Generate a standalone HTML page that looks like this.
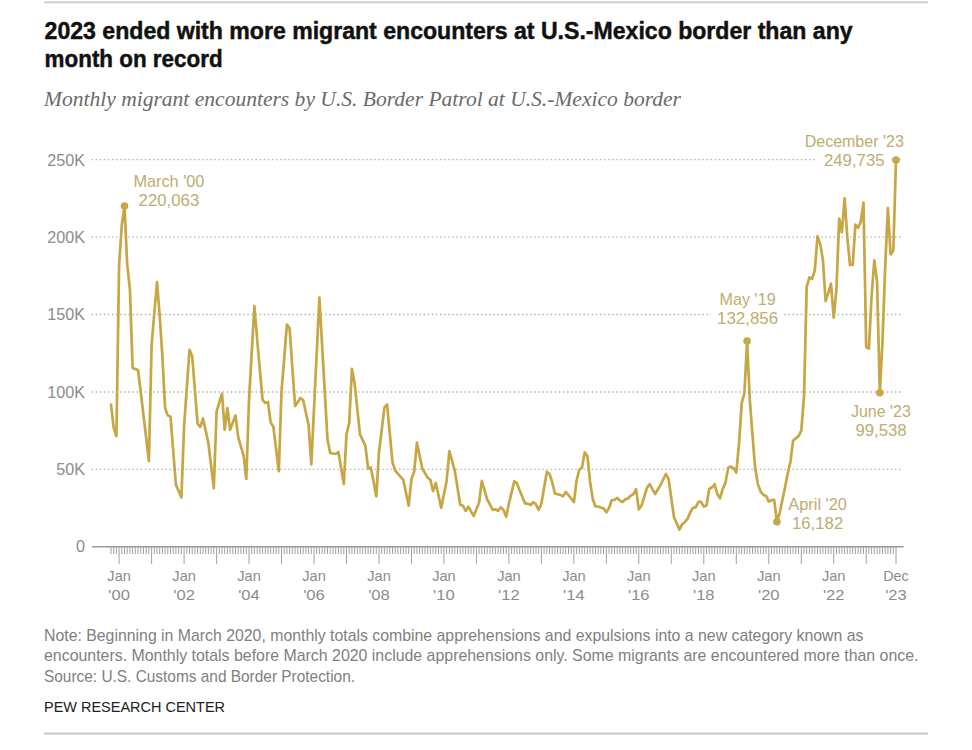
<!DOCTYPE html>
<html><head><meta charset="utf-8"><style>
html,body{margin:0;padding:0;background:#fff;}
body{width:972px;height:750px;overflow:hidden;position:relative;font-family:"Liberation Sans",sans-serif;}
svg{position:absolute;left:0;top:0;}
</style></head><body>
<svg width="972" height="750" viewBox="0 0 972 750">
<rect x="44" y="1.3" width="884" height="2" fill="#cfcfcf"/>
<rect x="44" y="732.6" width="884" height="2" fill="#c8c8c8"/>
<text x="44.6" y="39.1" font-family="Liberation Sans" font-weight="bold" font-size="23" fill="#111" stroke="#111" stroke-width="0.45" textLength="808" lengthAdjust="spacingAndGlyphs">2023 ended with more migrant encounters at U.S.-Mexico border than any</text>
<text x="44.6" y="66.9" font-family="Liberation Sans" font-weight="bold" font-size="23" fill="#111" stroke="#111" stroke-width="0.45" textLength="178" lengthAdjust="spacingAndGlyphs">month on record</text>
<text x="44" y="105.5" font-family="Liberation Serif" font-style="italic" font-size="21.5" fill="#6a6a6a" textLength="637" lengthAdjust="spacingAndGlyphs">Monthly migrant encounters by U.S. Border Patrol at U.S.-Mexico border</text>
<line x1="91.5" y1="469.4" x2="902.5" y2="469.4" stroke="#b0b0b0" stroke-width="1.3" stroke-dasharray="1.4 2.7"/>
<text x="85" y="475.2" text-anchor="end" font-family="Liberation Sans" font-size="16.2" fill="#8c8c8c">50K</text>
<line x1="91.5" y1="392.0" x2="902.5" y2="392.0" stroke="#b0b0b0" stroke-width="1.3" stroke-dasharray="1.4 2.7"/>
<text x="85" y="397.8" text-anchor="end" font-family="Liberation Sans" font-size="16.2" fill="#8c8c8c">100K</text>
<line x1="91.5" y1="314.5" x2="902.5" y2="314.5" stroke="#b0b0b0" stroke-width="1.3" stroke-dasharray="1.4 2.7"/>
<text x="85" y="320.3" text-anchor="end" font-family="Liberation Sans" font-size="16.2" fill="#8c8c8c">150K</text>
<line x1="91.5" y1="237.1" x2="902.5" y2="237.1" stroke="#b0b0b0" stroke-width="1.3" stroke-dasharray="1.4 2.7"/>
<text x="85" y="242.9" text-anchor="end" font-family="Liberation Sans" font-size="16.2" fill="#8c8c8c">200K</text>
<line x1="91.5" y1="159.7" x2="902.5" y2="159.7" stroke="#b0b0b0" stroke-width="1.3" stroke-dasharray="1.4 2.7"/>
<text x="85" y="165.5" text-anchor="end" font-family="Liberation Sans" font-size="16.2" fill="#8c8c8c">250K</text>
<text x="85" y="552.3" text-anchor="end" font-family="Liberation Sans" font-size="16.2" fill="#8c8c8c">0</text>
<line x1="92" y1="546.8" x2="903.5" y2="546.8" stroke="#9a9a9a" stroke-width="1.6"/>
<path d="M111.0 547V554 M113.7 547V554 M116.4 547V554 M119.1 547V564 M121.8 547V554 M124.5 547V554 M127.2 547V554 M129.9 547V554 M132.6 547V554 M135.3 547V554 M138.0 547V554 M140.8 547V554 M143.5 547V554 M146.2 547V554 M148.9 547V554 M151.6 547V564 M154.3 547V554 M157.0 547V554 M159.7 547V554 M162.4 547V554 M165.1 547V554 M167.8 547V554 M170.5 547V554 M173.2 547V554 M175.9 547V554 M178.7 547V554 M181.4 547V554 M184.1 547V564 M186.8 547V554 M189.5 547V554 M192.2 547V554 M194.9 547V554 M197.6 547V554 M200.3 547V554 M203.0 547V554 M205.7 547V554 M208.4 547V554 M211.1 547V554 M213.8 547V554 M216.6 547V564 M219.3 547V554 M222.0 547V554 M224.7 547V554 M227.4 547V554 M230.1 547V554 M232.8 547V554 M235.5 547V554 M238.2 547V554 M240.9 547V554 M243.6 547V554 M246.3 547V554 M249.0 547V564 M251.7 547V554 M254.4 547V554 M257.2 547V554 M259.9 547V554 M262.6 547V554 M265.3 547V554 M268.0 547V554 M270.7 547V554 M273.4 547V554 M276.1 547V554 M278.8 547V554 M281.5 547V564 M284.2 547V554 M286.9 547V554 M289.6 547V554 M292.3 547V554 M295.1 547V554 M297.8 547V554 M300.5 547V554 M303.2 547V554 M305.9 547V554 M308.6 547V554 M311.3 547V554 M314.0 547V564 M316.7 547V554 M319.4 547V554 M322.1 547V554 M324.8 547V554 M327.5 547V554 M330.2 547V554 M333.0 547V554 M335.7 547V554 M338.4 547V554 M341.1 547V554 M343.8 547V554 M346.5 547V564 M349.2 547V554 M351.9 547V554 M354.6 547V554 M357.3 547V554 M360.0 547V554 M362.7 547V554 M365.4 547V554 M368.1 547V554 M370.8 547V554 M373.6 547V554 M376.3 547V554 M379.0 547V564 M381.7 547V554 M384.4 547V554 M387.1 547V554 M389.8 547V554 M392.5 547V554 M395.2 547V554 M397.9 547V554 M400.6 547V554 M403.3 547V554 M406.0 547V554 M408.7 547V554 M411.5 547V564 M414.2 547V554 M416.9 547V554 M419.6 547V554 M422.3 547V554 M425.0 547V554 M427.7 547V554 M430.4 547V554 M433.1 547V554 M435.8 547V554 M438.5 547V554 M441.2 547V554 M443.9 547V564 M446.6 547V554 M449.4 547V554 M452.1 547V554 M454.8 547V554 M457.5 547V554 M460.2 547V554 M462.9 547V554 M465.6 547V554 M468.3 547V554 M471.0 547V554 M473.7 547V554 M476.4 547V564 M479.1 547V554 M481.8 547V554 M484.5 547V554 M487.2 547V554 M490.0 547V554 M492.7 547V554 M495.4 547V554 M498.1 547V554 M500.8 547V554 M503.5 547V554 M506.2 547V554 M508.9 547V564 M511.6 547V554 M514.3 547V554 M517.0 547V554 M519.7 547V554 M522.4 547V554 M525.1 547V554 M527.9 547V554 M530.6 547V554 M533.3 547V554 M536.0 547V554 M538.7 547V554 M541.4 547V564 M544.1 547V554 M546.8 547V554 M549.5 547V554 M552.2 547V554 M554.9 547V554 M557.6 547V554 M560.3 547V554 M563.0 547V554 M565.7 547V554 M568.5 547V554 M571.2 547V554 M573.9 547V564 M576.6 547V554 M579.3 547V554 M582.0 547V554 M584.7 547V554 M587.4 547V554 M590.1 547V554 M592.8 547V554 M595.5 547V554 M598.2 547V554 M600.9 547V554 M603.6 547V554 M606.4 547V564 M609.1 547V554 M611.8 547V554 M614.5 547V554 M617.2 547V554 M619.9 547V554 M622.6 547V554 M625.3 547V554 M628.0 547V554 M630.7 547V554 M633.4 547V554 M636.1 547V554 M638.8 547V564 M641.5 547V554 M644.3 547V554 M647.0 547V554 M649.7 547V554 M652.4 547V554 M655.1 547V554 M657.8 547V554 M660.5 547V554 M663.2 547V554 M665.9 547V554 M668.6 547V554 M671.3 547V564 M674.0 547V554 M676.7 547V554 M679.4 547V554 M682.1 547V554 M684.9 547V554 M687.6 547V554 M690.3 547V554 M693.0 547V554 M695.7 547V554 M698.4 547V554 M701.1 547V554 M703.8 547V564 M706.5 547V554 M709.2 547V554 M711.9 547V554 M714.6 547V554 M717.3 547V554 M720.0 547V554 M722.8 547V554 M725.5 547V554 M728.2 547V554 M730.9 547V554 M733.6 547V554 M736.3 547V564 M739.0 547V554 M741.7 547V554 M744.4 547V554 M747.1 547V554 M749.8 547V554 M752.5 547V554 M755.2 547V554 M757.9 547V554 M760.7 547V554 M763.4 547V554 M766.1 547V554 M768.8 547V564 M771.5 547V554 M774.2 547V554 M776.9 547V554 M779.6 547V554 M782.3 547V554 M785.0 547V554 M787.7 547V554 M790.4 547V554 M793.1 547V554 M795.8 547V554 M798.5 547V554 M801.3 547V564 M804.0 547V554 M806.7 547V554 M809.4 547V554 M812.1 547V554 M814.8 547V554 M817.5 547V554 M820.2 547V554 M822.9 547V554 M825.6 547V554 M828.3 547V554 M831.0 547V554 M833.7 547V564 M836.4 547V554 M839.2 547V554 M841.9 547V554 M844.6 547V554 M847.3 547V554 M850.0 547V554 M852.7 547V554 M855.4 547V554 M858.1 547V554 M860.8 547V554 M863.5 547V554 M866.2 547V564 M868.9 547V554 M871.6 547V554 M874.3 547V554 M877.1 547V554 M879.8 547V554 M882.5 547V554 M885.2 547V554 M887.9 547V554 M890.6 547V554 M893.3 547V554 M896.0 547V564" stroke="#a0a0a0" stroke-width="1" fill="none"/>
<text x="119.1" y="581" text-anchor="middle" font-family="Liberation Sans" font-size="15" fill="#8c8c8c" textLength="23.5" lengthAdjust="spacingAndGlyphs">Jan</text>
<text x="119.1" y="600.1" text-anchor="middle" font-family="Liberation Sans" font-size="15" fill="#8c8c8c" textLength="21.6" lengthAdjust="spacingAndGlyphs">'00</text>
<text x="184.1" y="581" text-anchor="middle" font-family="Liberation Sans" font-size="15" fill="#8c8c8c" textLength="23.5" lengthAdjust="spacingAndGlyphs">Jan</text>
<text x="184.1" y="600.1" text-anchor="middle" font-family="Liberation Sans" font-size="15" fill="#8c8c8c" textLength="21.6" lengthAdjust="spacingAndGlyphs">'02</text>
<text x="249.0" y="581" text-anchor="middle" font-family="Liberation Sans" font-size="15" fill="#8c8c8c" textLength="23.5" lengthAdjust="spacingAndGlyphs">Jan</text>
<text x="249.0" y="600.1" text-anchor="middle" font-family="Liberation Sans" font-size="15" fill="#8c8c8c" textLength="21.6" lengthAdjust="spacingAndGlyphs">'04</text>
<text x="314.0" y="581" text-anchor="middle" font-family="Liberation Sans" font-size="15" fill="#8c8c8c" textLength="23.5" lengthAdjust="spacingAndGlyphs">Jan</text>
<text x="314.0" y="600.1" text-anchor="middle" font-family="Liberation Sans" font-size="15" fill="#8c8c8c" textLength="21.6" lengthAdjust="spacingAndGlyphs">'06</text>
<text x="379.0" y="581" text-anchor="middle" font-family="Liberation Sans" font-size="15" fill="#8c8c8c" textLength="23.5" lengthAdjust="spacingAndGlyphs">Jan</text>
<text x="379.0" y="600.1" text-anchor="middle" font-family="Liberation Sans" font-size="15" fill="#8c8c8c" textLength="21.6" lengthAdjust="spacingAndGlyphs">'08</text>
<text x="443.9" y="581" text-anchor="middle" font-family="Liberation Sans" font-size="15" fill="#8c8c8c" textLength="23.5" lengthAdjust="spacingAndGlyphs">Jan</text>
<text x="443.9" y="600.1" text-anchor="middle" font-family="Liberation Sans" font-size="15" fill="#8c8c8c" textLength="21.6" lengthAdjust="spacingAndGlyphs">'10</text>
<text x="508.9" y="581" text-anchor="middle" font-family="Liberation Sans" font-size="15" fill="#8c8c8c" textLength="23.5" lengthAdjust="spacingAndGlyphs">Jan</text>
<text x="508.9" y="600.1" text-anchor="middle" font-family="Liberation Sans" font-size="15" fill="#8c8c8c" textLength="21.6" lengthAdjust="spacingAndGlyphs">'12</text>
<text x="573.9" y="581" text-anchor="middle" font-family="Liberation Sans" font-size="15" fill="#8c8c8c" textLength="23.5" lengthAdjust="spacingAndGlyphs">Jan</text>
<text x="573.9" y="600.1" text-anchor="middle" font-family="Liberation Sans" font-size="15" fill="#8c8c8c" textLength="21.6" lengthAdjust="spacingAndGlyphs">'14</text>
<text x="638.8" y="581" text-anchor="middle" font-family="Liberation Sans" font-size="15" fill="#8c8c8c" textLength="23.5" lengthAdjust="spacingAndGlyphs">Jan</text>
<text x="638.8" y="600.1" text-anchor="middle" font-family="Liberation Sans" font-size="15" fill="#8c8c8c" textLength="21.6" lengthAdjust="spacingAndGlyphs">'16</text>
<text x="703.8" y="581" text-anchor="middle" font-family="Liberation Sans" font-size="15" fill="#8c8c8c" textLength="23.5" lengthAdjust="spacingAndGlyphs">Jan</text>
<text x="703.8" y="600.1" text-anchor="middle" font-family="Liberation Sans" font-size="15" fill="#8c8c8c" textLength="21.6" lengthAdjust="spacingAndGlyphs">'18</text>
<text x="768.8" y="581" text-anchor="middle" font-family="Liberation Sans" font-size="15" fill="#8c8c8c" textLength="23.5" lengthAdjust="spacingAndGlyphs">Jan</text>
<text x="768.8" y="600.1" text-anchor="middle" font-family="Liberation Sans" font-size="15" fill="#8c8c8c" textLength="21.6" lengthAdjust="spacingAndGlyphs">'20</text>
<text x="833.7" y="581" text-anchor="middle" font-family="Liberation Sans" font-size="15" fill="#8c8c8c" textLength="23.5" lengthAdjust="spacingAndGlyphs">Jan</text>
<text x="833.7" y="600.1" text-anchor="middle" font-family="Liberation Sans" font-size="15" fill="#8c8c8c" textLength="21.6" lengthAdjust="spacingAndGlyphs">'22</text>
<text x="896.0" y="581" text-anchor="middle" font-family="Liberation Sans" font-size="15" fill="#8c8c8c" textLength="25.4" lengthAdjust="spacingAndGlyphs">Dec</text>
<text x="896.0" y="600.1" text-anchor="middle" font-family="Liberation Sans" font-size="15" fill="#8c8c8c" textLength="21.6" lengthAdjust="spacingAndGlyphs">'23</text>
<rect x="815.5" y="150" width="76" height="20" fill="#fff"/>
<rect x="711" y="305" width="73" height="20" fill="#fff"/>
<polyline points="111.0,404.5 113.7,427.8 116.4,436.0 119.1,265.0 121.8,225.0 124.5,206.1 127.2,264.4 129.9,289.0 132.6,367.9 135.3,369.0 138.0,370.0 140.8,392.7 143.5,415.4 146.2,438.2 148.9,460.9 151.6,345.0 154.3,313.0 157.0,282.0 159.7,316.0 162.4,356.5 165.1,408.2 167.8,415.4 170.5,416.4 173.2,450.5 175.9,484.6 178.7,491.0 181.4,497.4 184.1,426.0 186.8,387.9 189.5,349.8 192.2,356.3 194.9,390.0 197.6,423.7 200.3,426.8 203.0,418.5 205.7,430.9 208.4,443.3 211.1,465.7 213.8,488.1 216.6,411.3 219.3,402.5 222.0,393.7 224.7,429.9 227.4,408.2 230.1,429.9 232.8,422.6 235.5,415.4 238.2,437.1 240.9,446.4 243.6,455.7 246.3,478.9 249.0,399.9 251.7,352.9 254.4,306.0 257.2,340.0 259.9,369.9 262.6,399.9 265.3,403.0 268.0,402.0 270.7,422.6 273.4,426.8 276.1,449.0 278.8,471.2 281.5,391.6 284.2,358.1 286.9,324.6 289.6,328.2 292.3,367.1 295.1,406.0 297.8,401.9 300.5,397.9 303.2,400.3 305.9,412.7 308.6,425.1 311.3,464.4 314.0,408.8 316.7,353.2 319.4,297.6 322.1,344.9 324.8,392.3 327.5,439.6 330.2,453.0 333.0,453.5 335.7,454.0 338.4,452.0 341.1,468.0 343.8,484.0 346.5,434.4 349.2,423.0 351.9,368.8 354.6,383.3 357.3,408.9 360.0,434.4 362.7,440.1 365.4,445.8 368.1,468.5 370.8,467.5 373.6,481.9 376.3,496.4 379.0,452.0 381.7,429.8 384.4,407.6 387.1,404.5 389.8,433.4 392.5,462.3 395.2,470.6 397.9,473.7 400.6,476.8 403.3,479.9 406.0,492.8 408.7,505.7 411.5,478.8 414.2,471.6 416.9,442.7 419.6,455.6 422.3,468.5 425.0,473.1 427.7,477.8 430.4,479.9 433.1,491.2 435.8,483.0 438.5,495.4 441.2,507.8 443.9,494.4 446.6,480.9 449.4,451.0 452.1,460.8 454.8,470.6 457.5,487.6 460.2,504.7 462.9,505.7 465.6,510.9 468.3,506.7 471.0,511.4 473.7,516.0 476.4,509.3 479.1,502.6 481.8,480.9 484.5,490.2 487.2,499.5 490.0,504.6 492.7,509.8 495.4,509.3 498.1,510.8 500.8,507.2 503.5,510.0 506.2,516.8 508.9,503.6 511.6,492.4 514.3,481.2 517.0,483.4 519.7,490.6 522.4,497.1 525.1,503.6 527.9,503.6 530.6,505.0 533.3,502.1 536.0,504.3 538.7,510.0 541.4,503.6 544.1,487.8 546.8,471.9 549.5,474.0 552.2,482.0 554.9,493.5 557.6,494.2 560.3,494.9 563.0,496.4 565.7,492.0 568.5,495.2 571.2,498.5 573.9,502.1 576.6,480.5 579.3,469.7 582.0,467.6 584.7,452.4 587.4,456.0 590.1,482.0 592.8,499.3 595.5,506.5 598.2,506.5 600.9,507.6 603.6,508.6 606.4,512.2 609.1,507.9 611.8,500.0 614.5,500.0 617.2,497.8 619.9,500.7 622.6,502.1 625.3,499.3 628.0,498.5 630.7,495.6 633.4,494.2 636.1,489.2 638.8,509.3 641.5,505.7 644.3,496.7 647.0,487.7 649.7,484.1 652.4,489.1 655.1,494.0 657.8,489.5 660.5,485.0 663.2,479.5 665.9,474.0 668.6,479.1 671.3,498.2 674.0,517.2 676.7,523.4 679.4,529.6 682.1,524.3 684.9,521.9 687.6,518.6 690.3,512.3 693.0,507.8 695.7,507.3 698.4,501.8 701.1,501.9 703.8,506.6 706.5,505.5 709.2,488.9 711.9,487.5 714.6,484.3 717.3,494.0 720.0,498.3 722.8,488.7 725.5,482.6 728.2,467.8 730.9,466.5 733.6,468.2 736.3,472.5 739.0,443.9 741.7,403.1 744.4,393.1 747.1,341.1 749.8,399.9 752.5,435.3 755.2,468.3 757.9,484.1 760.7,491.8 763.4,494.9 766.1,495.9 768.8,501.6 771.5,500.2 774.2,499.8 776.9,521.7 779.6,513.4 782.3,500.3 785.0,487.7 787.7,473.6 790.4,462.0 793.1,440.7 795.8,438.4 798.5,436.1 801.3,430.7 804.0,396.6 806.7,286.7 809.4,277.4 812.1,278.9 814.8,270.4 817.5,236.2 820.2,244.1 822.9,259.6 825.6,301.2 828.3,292.9 831.0,283.6 833.7,317.6 836.4,289.8 839.2,218.5 841.9,232.5 844.6,198.4 847.3,237.1 850.0,265.0 852.7,265.0 855.4,224.7 858.1,227.8 860.8,221.6 863.5,202.7 866.2,347.2 868.9,348.6 871.6,296.0 874.3,260.3 877.1,282.0 879.8,392.7 882.5,341.4 885.2,266.4 887.9,208.1 890.6,254.5 893.3,250.8 896.0,160.1" fill="none" stroke="#c7a644" stroke-width="2.7" stroke-linejoin="round" stroke-linecap="round"/>
<circle cx="124.5" cy="206.1" r="3.8" fill="#c7a644"/>
<circle cx="747.1" cy="341.1" r="3.8" fill="#c7a644"/>
<circle cx="776.9" cy="521.7" r="3.8" fill="#c7a644"/>
<circle cx="879.8" cy="392.7" r="3.8" fill="#c7a644"/>
<circle cx="896.0" cy="160.1" r="3.8" fill="#c7a644"/>
<text x="133.4" y="187.1" font-family="Liberation Sans" font-size="16.2" fill="#c0ad70" textLength="71.0" lengthAdjust="spacingAndGlyphs">March '00</text>
<text x="138.6" y="206.2" font-family="Liberation Sans" font-size="16.2" fill="#c0ad70" textLength="60.7" lengthAdjust="spacingAndGlyphs">220,063</text>
<text x="804.7" y="146.5" font-family="Liberation Sans" font-size="16.2" fill="#c0ad70" textLength="99.1" lengthAdjust="spacingAndGlyphs">December '23</text>
<text x="824.0" y="165.7" font-family="Liberation Sans" font-size="16.2" fill="#c0ad70" textLength="60.5" lengthAdjust="spacingAndGlyphs">249,735</text>
<text x="719.6" y="305.2" font-family="Liberation Sans" font-size="16.2" fill="#c0ad70" textLength="56.1" lengthAdjust="spacingAndGlyphs">May '19</text>
<text x="717.0" y="324.2" font-family="Liberation Sans" font-size="16.2" fill="#c0ad70" textLength="61.2" lengthAdjust="spacingAndGlyphs">132,856</text>
<text x="851.0" y="417.1" font-family="Liberation Sans" font-size="16.2" fill="#c0ad70" textLength="59.9" lengthAdjust="spacingAndGlyphs">June '23</text>
<text x="855.4" y="436.3" font-family="Liberation Sans" font-size="16.2" fill="#c0ad70" textLength="51.3" lengthAdjust="spacingAndGlyphs">99,538</text>
<text x="788.3" y="509.6" font-family="Liberation Sans" font-size="16.2" fill="#c0ad70" textLength="58.6" lengthAdjust="spacingAndGlyphs">April '20</text>
<text x="792.0" y="529.4" font-family="Liberation Sans" font-size="16.2" fill="#c0ad70" textLength="51.2" lengthAdjust="spacingAndGlyphs">16,182</text>
<text x="44" y="640.6" font-family="Liberation Sans" font-size="15.9" fill="#808080" textLength="819.5" lengthAdjust="spacingAndGlyphs">Note: Beginning in March 2020, monthly totals combine apprehensions and expulsions into a new category known as</text>
<text x="44" y="661.2" font-family="Liberation Sans" font-size="15.9" fill="#808080" textLength="874.5" lengthAdjust="spacingAndGlyphs">encounters. Monthly totals before March 2020 include apprehensions only. Some migrants are encountered more than once.</text>
<text x="44" y="681.7" font-family="Liberation Sans" font-size="15.9" fill="#808080" textLength="311" lengthAdjust="spacingAndGlyphs">Source: U.S. Customs and Border Protection.</text>
<text x="44" y="712.2" font-family="Liberation Sans" font-size="14.5" fill="#222" textLength="181" lengthAdjust="spacingAndGlyphs">PEW RESEARCH CENTER</text>
</svg>
</body></html>
